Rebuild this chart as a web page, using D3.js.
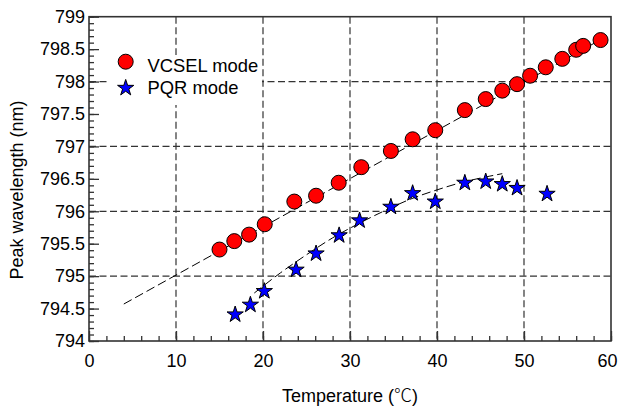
<!DOCTYPE html>
<html>
<head>
<meta charset="utf-8">
<script src="https://cdn.jsdelivr.net/npm/d3@7"></script>
<style>
  body { margin: 0; background: #fff; }
  text { font-family: "Liberation Sans", Arial, "Noto Sans CJK SC", sans-serif; fill: #000; }
</style>
</head>
<body>
<div id="chart"></div>
<script>

// Data

var vcselT  = [15.0, 16.7, 18.4, 20.2, 23.6, 26.1, 28.7, 31.3, 34.7, 37.2, 39.8, 43.2, 45.6, 47.5, 49.2, 50.7, 52.5, 54.4, 56.0, 56.8, 58.8];
var vcselWl = [795.41, 795.54, 795.64, 795.80, 796.15, 796.24, 796.44, 796.68, 796.93, 797.11, 797.25, 797.56, 797.73, 797.86, 797.96, 798.09, 798.22, 798.35, 798.49, 798.55, 798.64];

var pqrT  = [16.8, 18.55, 20.15, 23.8, 26.1, 28.75, 31.1, 34.7, 37.2, 39.8, 43.2, 45.6, 47.5, 49.2, 52.65];
var pqrWl = [794.42, 794.57, 794.78, 795.11, 795.36, 795.64, 795.87, 796.08, 796.29, 796.16, 796.45, 796.47, 796.43, 796.37, 796.28];

// fitted curves (dashed)
var vcselFitT  = [4, 59];
var vcselFitWl = [794.57, 798.66];
var pqrFitT  = [19, 22, 25, 28, 31, 34, 37, 40, 43, 46, 47.5];
var pqrFitWl = [794.74, 795.05, 795.33, 795.59, 795.81, 796.01, 796.19, 796.33, 796.45, 796.54, 796.58];

var xTicks = [0, 10, 20, 30, 40, 50, 60];
var yTicks = [794, 794.5, 795, 795.5, 796, 796.5, 797, 797.5, 798, 798.5, 799];
var xGrid  = [10, 20, 30, 40, 50];
var yGrid  = [795, 796, 797, 798];
var legendNames = ["VCSEL mode", "PQR mode"];

// Layout

var width = 618, height = 408;
var margin = {top: 16.7, right: 7, bottom: 67, left: 89};

var svg = d3.select("#chart").append("svg")
    .attr("width", width)
    .attr("height", height);

var x = d3.scaleLinear().domain([0, 60]).range([margin.left, width - margin.right]);
var y = d3.scaleLinear().domain([794, 799]).range([height - margin.bottom, margin.top]);

var zip = function(a, b) { return a.map(function(v, i) { return [v, b[i]]; }); };

// Grid

svg.append("g").selectAll("line").data(xGrid).enter().append("line")
    .attr("x1", function(d) { return x(d); }).attr("x2", function(d) { return x(d); })
    .attr("y1", y(799)).attr("y2", y(794))
    .attr("stroke", "#333").attr("stroke-width", 1.2).attr("stroke-dasharray", "7,3.5");

svg.append("g").selectAll("line").data(yGrid).enter().append("line")
    .attr("y1", function(d) { return y(d); }).attr("y2", function(d) { return y(d); })
    .attr("x1", x(0)).attr("x2", x(60))
    .attr("stroke", "#333").attr("stroke-width", 1.2).attr("stroke-dasharray", "7,3.5");

// Legend background hides the grid

svg.append("rect")
    .attr("x", 110).attr("y", 55).attr("width", 152).attr("height", 50)
    .attr("fill", "#fff");

// Fit lines

var line = d3.line()
    .x(function(d) { return x(d[0]); })
    .y(function(d) { return y(d[1]); });

svg.append("path")
    .attr("d", line(zip(vcselFitT, vcselFitWl)))
    .attr("fill", "none").attr("stroke", "#000").attr("stroke-width", 1)
    .attr("stroke-dasharray", "9,4");

svg.append("path")
    .attr("d", line.curve(d3.curveMonotoneX)(zip(pqrFitT, pqrFitWl)))
    .attr("fill", "none").attr("stroke", "#000").attr("stroke-width", 1)
    .attr("stroke-dasharray", "9,4");

// Points

var star = d3.symbol().type(d3.symbolStar).size(82);

svg.append("g").selectAll("circle").data(zip(vcselT, vcselWl)).enter().append("circle")
    .attr("cx", function(d) { return x(d[0]); })
    .attr("cy", function(d) { return y(d[1]); })
    .attr("r", 7.5)
    .attr("fill", "#ff0000").attr("stroke", "#000").attr("stroke-width", 1);

svg.append("g").selectAll("path").data(zip(pqrT, pqrWl)).enter().append("path")
    .attr("d", star)
    .attr("transform", function(d) { return "translate(" + x(d[0]) + "," + (y(d[1]) + 0.8) + ")"; })
    .attr("fill", "#0000ff").attr("stroke", "#000").attr("stroke-width", 1);

// Legend

svg.append("circle")
    .attr("cx", 125.7).attr("cy", 61.7).attr("r", 7.5)
    .attr("fill", "#ff0000").attr("stroke", "#000").attr("stroke-width", 1);

svg.append("path")
    .attr("d", star)
    .attr("transform", "translate(125.7,88)")
    .attr("fill", "#0000ff").attr("stroke", "#000").attr("stroke-width", 1);

svg.selectAll(".legend-text").data(legendNames).enter().append("text")
    .attr("class", "legend-text")
    .attr("x", 147.5)
    .attr("y", function(d, i) { return 71.5 + i * 22; })
    .style("font-size", "18.4px")
    .text(function(d) { return d; });

// Frame and ticks

svg.append("rect")
    .attr("x", x(0)).attr("y", y(799))
    .attr("width", x(60) - x(0)).attr("height", y(794) - y(799))
    .attr("fill", "none").attr("stroke", "#333").attr("stroke-width", 1.6);

var xAxis = d3.axisBottom(x).tickValues(xTicks).tickSize(-10).tickPadding(13);
var gx = svg.append("g").attr("transform", "translate(0," + y(794) + ")").call(xAxis);

var xMinor = d3.axisBottom(x).tickValues(d3.range(0, 61, 2)).tickSize(-5).tickFormat("");
svg.append("g").attr("transform", "translate(0," + y(794) + ")").call(xMinor);

var yAxis = d3.axisLeft(y).tickValues(yTicks).tickSize(-10).tickPadding(4)
    .tickFormat(function(d) { return d % 1 === 0 ? d3.format("d")(d) : d3.format(".1f")(d); });
var gy = svg.append("g").attr("transform", "translate(" + x(0) + ",0)").call(yAxis);

var yMinor = d3.axisLeft(y).tickValues(d3.range(7940, 7991, 1).map(function(v) { return v / 10; })).tickSize(-5).tickFormat("");
svg.append("g").attr("transform", "translate(" + x(0) + ",0)").call(yMinor);

svg.selectAll(".domain").remove();
svg.selectAll(".tick line").attr("stroke", "#333").attr("stroke-width", 1.3);
svg.selectAll(".tick text").style("font-size", "18px").style("font-family", "'Liberation Sans', Arial, sans-serif");

// last x label sits against the right edge
gx.selectAll(".tick text").filter(function(d) { return d === 60; }).attr("dx", -4);

// Axis titles

var xt = svg.append("text")
    .attr("x", (x(0) + x(60)) / 2)
    .attr("y", 401.5)
    .attr("text-anchor", "middle")
    .style("font-size", "18px");
xt.append("tspan").text("Temperature (");
xt.append("tspan").style("font-family", "'Noto Sans CJK SC'").style("font-weight", 300).text("℃");
xt.append("tspan").text(")");

svg.append("text")
    .attr("transform", "translate(23,190) rotate(-90)")
    .attr("text-anchor", "middle")
    .style("font-size", "18px")
    .text("Peak wavelength (nm)");

</script>
</body>
</html>
